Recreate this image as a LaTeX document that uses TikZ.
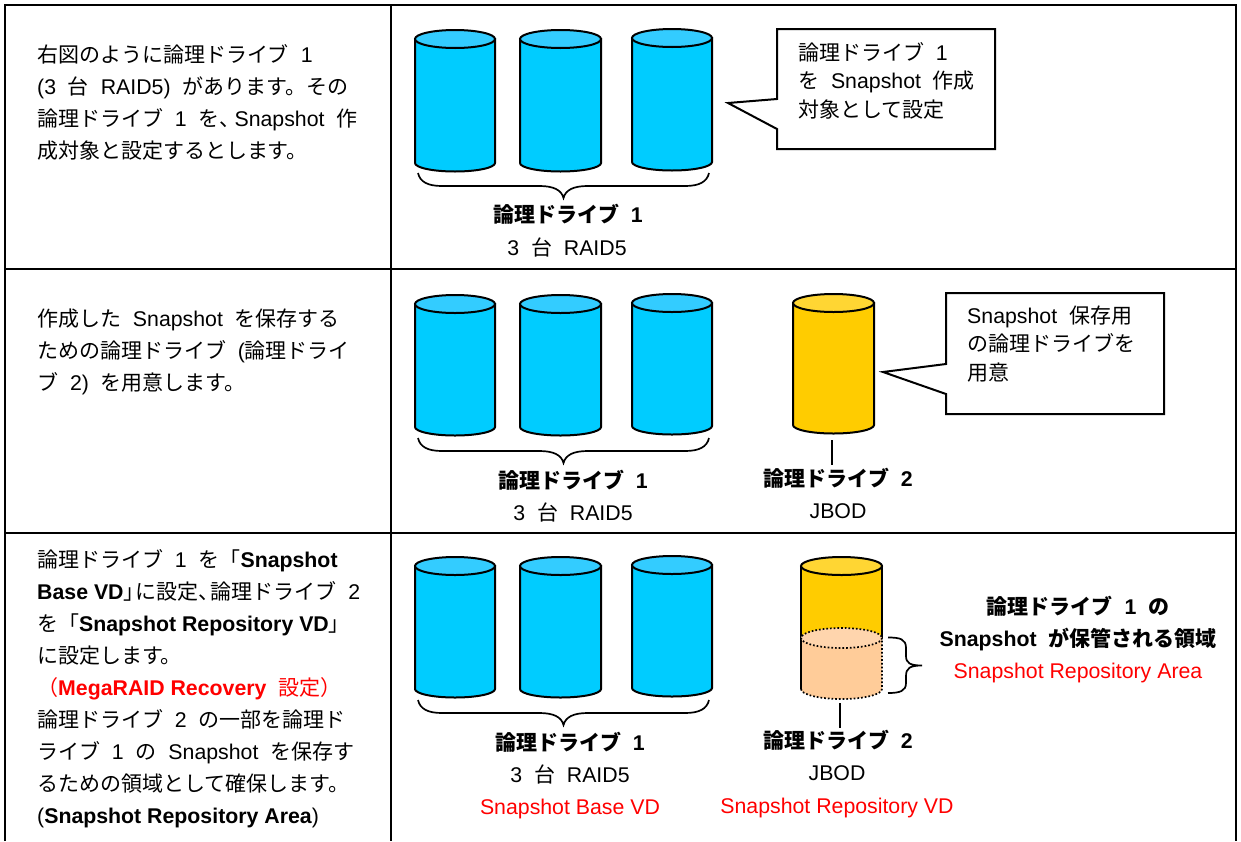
\documentclass[tikz,border=0pt]{standalone}
\usepackage{fontspec}
\setmainfont{Liberation Sans}
\newfontfamily\cjk[Scale=0.985]{Noto Sans CJK JP}
\newcommand{\J}[1]{{\cjk #1}}
\newcommand{\Rn}{\J{論理ドライブ}}
\definecolor{blueBody}{HTML}{00CCFF}
\definecolor{blueTop}{HTML}{33CCFF}
\definecolor{yelBody}{HTML}{FFCC00}
\definecolor{yelTop}{HTML}{FFD633}
\definecolor{orgBody}{HTML}{FFCC99}
\definecolor{orgTop}{HTML}{FFD5AD}
\definecolor{redText}{HTML}{FF0000}
\tikzset{
 x=1pt,y=-1pt,
 outline/.style={draw=black,line width=2pt},
 grid/.style={draw=black,line width=2pt},
 body/.style={font=\fontsize{21.3}{32}\selectfont,inner sep=0pt,align=left,anchor=base west},
 call/.style={body,font=\fontsize{21.3}{28.3}\selectfont},
 lbl/.style={font=\fontsize{21.3}{32}\selectfont,inner sep=0pt,anchor=base},
 blbl/.style={lbl,font=\fontsize{21.3}{32}\selectfont\bfseries},
 rlbl/.style={lbl,text=redText},
 brace/.style={draw=black,line width=1.7pt},
}
% x0 x1 ytop(centre of top ellipse) yside(end of side) fill top
\newcommand{\drum}[6]{%
 \pgfmathsetmacro{\mx}{(#1+#2)/2}\pgfmathsetmacro{\rx}{(#2-#1)/2}%
 \path[outline,fill=#5] (#1,#3) -- (#1,#4) arc[start angle=180,end angle=360,x radius=\rx,y radius=-8.5] -- (#2,#3) -- cycle;%
 \path[outline,fill=#6] (\mx,#3) ellipse[x radius=\rx,y radius=9];%
}
\newcommand{\hbrace}[3]{% x0 x1 ytop
 \pgfmathsetmacro{\mx}{(#1+#2)/2}%
 \draw[brace] (#1,#3) .. controls (#1+2,#3+9) and (#1+10,#3+13) .. (#1+24,#3+13) -- (\mx-24,#3+13) .. controls (\mx-10,#3+13) and (\mx-2,#3+17) .. (\mx,#3+25) .. controls (\mx+2,#3+17) and (\mx+10,#3+13) .. (\mx+24,#3+13) -- (#2-24,#3+13) .. controls (#2-10,#3+13) and (#2-2,#3+9) .. (#2,#3);%
}
\begin{document}
\begin{tikzpicture}
\useasboundingbox (0,0) rectangle (1241,841);
\fill[white] (0,0) rectangle (1241,841);
% table
\draw[grid] (5,841) -- (5,5) -- (1236,5) -- (1236,841);
\draw[grid] (390.5,5) -- (390.5,841);
\draw[grid] (5,268.5) -- (1236,268.5);
\draw[grid] (5,533) -- (1236,533);
% left texts
\node[body] (t1) at (37,158.5) {\J{右図のように}\Rn~ 1\\(3~ \J{台}~ RAID5)~ \J{があります。その}\\\Rn~ 1~ \J{を、}\hspace{-6pt}Snapshot~ \J{作}\\\J{成対象と設定するとします。}};
\node[body] (t2) at (37,390) {\J{作成した}~ Snapshot~ \J{を保存する}\\\J{ための}\Rn~ (\J{論理ドライ}\\\J{ブ}~ 2)~ \J{を用意します。}};
\node[body] (t3) at (37,823) {\Rn~ 1~ \J{を「}\textbf{Snapshot}\\\textbf{Base VD}\J{」}\hspace{-9pt}\J{に設定、}\hspace{-9pt}\Rn~ 2\\\J{を「}\textbf{Snapshot Repository VD}\J{」}\\\J{に設定します。}\\\textcolor{redText}{\J{（}\textbf{MegaRAID Recovery}~ \J{設定）}}\\\Rn~ 2~ \J{の一部を論理ド}\\\J{ライブ}~ 1~ \J{の}~ Snapshot~ \J{を保存す}\\\J{るための領域として確保します。}\\(\textbf{Snapshot Repository Area})};
% row 1
\drum{415}{495}{39}{163}{blueBody}{blueTop}
\drum{520}{601}{39}{163}{blueBody}{blueTop}
\drum{632}{712}{38}{162}{blueBody}{blueTop}
\hbrace{418}{709}{173}
\node[blbl] (a1) at (568,222) {\Rn~ 1};
\node[lbl] (a2) at (567,255) {3~ \J{台}~ RAID5};
\path[outline,fill=white] (777,29) -- (995,29) -- (995,149) -- (777,149) -- (777,129) -- (728,103) -- (777,99) -- cycle;
\node[call] (c1) at (798,117) {\Rn~ 1\\\J{を}~ Snapshot~ \J{作成}\\\J{対象として設定}};
% row 2
\drum{415}{495}{304}{427}{blueBody}{blueTop}
\drum{520}{601}{304}{427}{blueBody}{blueTop}
\drum{632}{712}{303}{426}{blueBody}{blueTop}
\drum{793}{874}{303}{425}{yelBody}{yelTop}
\hbrace{418}{709}{438}
\node[blbl] (b1) at (573,488) {\Rn~ 1};
\node[lbl] (b2) at (573,520) {3~ \J{台}~ RAID5};
\node[blbl] (b3) at (838,486) {\Rn~ 2};
\node[lbl] (b4) at (838,518) {JBOD};
\coordinate (bt) at (832,440);
\coordinate (bb) at (832,465);
\draw[outline] (bt) -- (bb);
\path[outline,fill=white] (946,293) -- (1164,293) -- (1164,414) -- (946,414) -- (946,394) -- (883,372) -- (946,364) -- cycle;
\node[call] (c2) at (967,380) {Snapshot~ \J{保存用}\\\J{の}\Rn\J{を}\\\J{用意}};
% row 3
\drum{415}{495}{566}{689}{blueBody}{blueTop}
\drum{520}{601}{566}{689}{blueBody}{blueTop}
\drum{632}{712}{565}{688}{blueBody}{blueTop}
\hbrace{418}{709}{700}
\node[blbl] (d1) at (570,750) {\Rn~ 1};
\node[lbl] (d2) at (570,782) {3~ \J{台}~ RAID5};
\node[rlbl] (d3) at (570,814) {Snapshot Base VD};
% partial drum
\path[fill=yelBody] (801,566) -- (801,638) -- (882,638) -- (882,566) -- cycle;
\draw[outline] (801,638) -- (801,566) (882,566) -- (882,638);
\path[outline,fill=yelTop] (841.5,566) ellipse[x radius=40.5,y radius=9];
\path[fill=orgBody] (801,638) -- (801,689) arc[start angle=180,end angle=360,x radius=40.5,y radius=-10] -- (882,638) -- cycle;
\draw[outline] (801,638) -- (801,689);
\draw[line width=1.7pt,dotted,draw=black] (801,689) arc[start angle=180,end angle=360,x radius=40.5,y radius=-10] -- (882,638);
\path[fill=orgTop,draw=black,line width=1.7pt,dotted] (841.5,638) ellipse[x radius=40.5,y radius=10];
\draw[brace] (888,637.5) .. controls (900,637.5) and (906,639) .. (906,648) -- (906,656) .. controls (906,663) and (910,665.5) .. (922,665.5) .. controls (910,665.5) and (906,668) .. (906,676) -- (906,683) .. controls (906,691) and (900,693) .. (888,693);
\coordinate (dt) at (840,703);
\coordinate (db) at (840,728);
\draw[outline] (dt) -- (db);
\node[blbl] (d4) at (838,748) {\Rn~ 2};
\node[lbl] (d5) at (837,780) {JBOD};
\node[rlbl] (d6) at (837,813) {Snapshot Repository VD};
\node[blbl] (e1) at (1078,614) {\Rn~ 1~ \J{の}};
\node[blbl] (e2) at (1078,646) {Snapshot~ \J{が保管される領域}};
\node[rlbl] (e3) at (1078,678) {Snapshot Repository Area};
\end{tikzpicture}
\end{document}
